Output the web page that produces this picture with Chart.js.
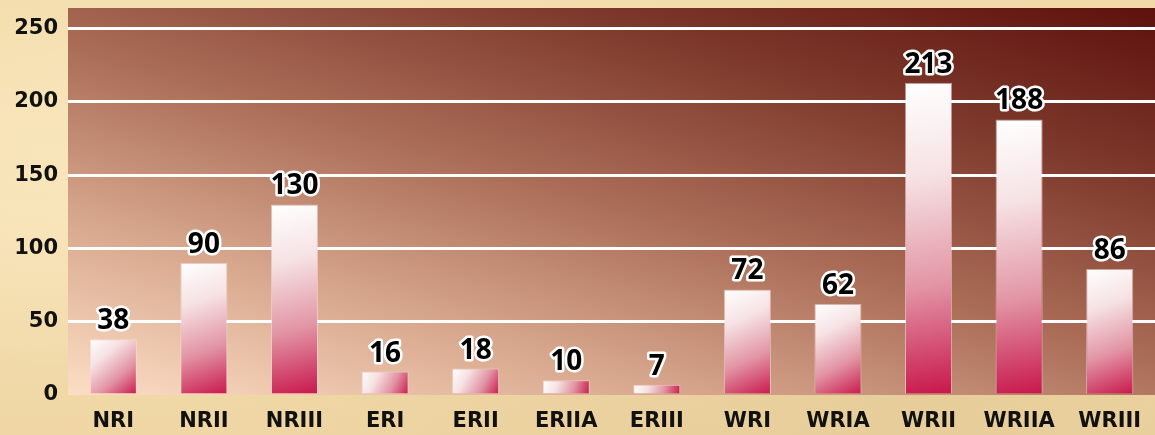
<!DOCTYPE html>
<html>
<head>
<meta charset="utf-8">
<script src="https://cdn.jsdelivr.net/npm/chart.js@4/dist/chart.umd.min.js"></script>
<style>
  html, body {
    margin: 0;
    padding: 0;
  }
  body {
    width: 1155px;
    height: 435px;
    overflow: hidden;
    background:
      radial-gradient(ellipse at 20% 30%, rgba(255, 240, 200, 0.5), rgba(255, 240, 200, 0) 60%),
      radial-gradient(ellipse at 80% 90%, rgba(215, 185, 130, 0.35), rgba(215, 185, 130, 0) 55%),
      linear-gradient(180deg, #f1d9a8 0%, #f5e0b3 50%, #efd6a4 100%);
  }
  #wrap {
    position: relative;
    width: 1155px;
    height: 435px;
  }
</style>
</head>
<body>
<div id="wrap"><canvas id="chart"></canvas></div>
<script>
// data
const categories = ["NRI", "NRII", "NRIII", "ERI", "ERII", "ERIIA", "ERIII", "WRI", "WRIA", "WRII", "WRIIA", "WRIII"];
const counts = [38, 90, 130, 16, 18, 10, 7, 72, 62, 213, 188, 86];
const yTicks = [0, 50, 100, 150, 200, 250];

const BAR_PCT = 0.52;
const AXIS_FONT = "'DejaVu Sans'";

// plot background: peach at bottom-left, dark maroon at top-right
const plotBackground = {
  id: "plotBackground",
  beforeDraw(chart) {
    const { ctx, chartArea: a } = chart;
    const w = a.right - a.left;
    const h = a.bottom - a.top;
    // t = 0.45 * x/w + 0.55 * (bottom - y)/h
    const gx = 0.45 / w, gy = -0.55 / h;
    const n = gx * gx + gy * gy;
    const g = ctx.createLinearGradient(a.left, a.bottom, a.left + gx / n, a.bottom + gy / n);
    g.addColorStop(0, "#fcdec5");
    g.addColorStop(0.25, "#d8a88e");
    g.addColorStop(0.5, "#aa6c57");
    g.addColorStop(0.75, "#7e3a2c");
    g.addColorStop(1, "#5e110d");
    ctx.save();
    ctx.fillStyle = g;
    ctx.fillRect(a.left, a.top, w, h);
    ctx.restore();
  }
};

// value labels above the bars, black with white outline
const valueLabels = {
  id: "valueLabels",
  afterDatasetsDraw(chart) {
    const ctx = chart.ctx;
    const meta = chart.getDatasetMeta(0);
    ctx.save();
    ctx.font = "bold 28px 'Noto Sans'";
    ctx.textAlign = "center";
    ctx.textBaseline = "alphabetic";
    ctx.lineJoin = "round";
    meta.data.forEach((bar, i) => {
      const txt = String(counts[i]);
      const y = bar.y - 10;
      ctx.strokeStyle = "#ffffff";
      ctx.lineWidth = 5;
      ctx.strokeText(txt, bar.x, y);
      ctx.fillStyle = "#000000";
      ctx.fillText(txt, bar.x, y);
    });
    ctx.restore();
  }
};

function barGradient(context) {
  const chart = context.chart;
  const xs = chart.scales.x, ys = chart.scales.y;
  if (!xs || !ys || !chart.chartArea) return "#e06080";
  const i = context.dataIndex;
  const cx = xs.getPixelForValue(i);
  const bw = (chart.chartArea.right - chart.chartArea.left) / categories.length * BAR_PCT;
  const top = ys.getPixelForValue(counts[i]);
  const bottom = ys.getPixelForValue(0);
  const g = chart.ctx.createLinearGradient(cx - bw / 2, top, cx + bw / 2, bottom);
  g.addColorStop(0, "#ffffff");
  g.addColorStop(0.3, "#f6e2e4");
  g.addColorStop(0.65, "#e294a4");
  g.addColorStop(1, "#c8154b");
  return g;
}

const ctx = document.getElementById("chart").getContext("2d");
new Chart(ctx, {
  type: "bar",
  data: {
    labels: categories,
    datasets: [{
      data: counts,
      backgroundColor: barGradient,
      borderColor: "rgba(255, 225, 230, 0.55)",
      borderWidth: 1,
      borderSkipped: "bottom",
      categoryPercentage: 1,
      barPercentage: BAR_PCT
    }]
  },
  options: {
    responsive: true,
    maintainAspectRatio: false,
    animation: false,
    layout: { padding: { top: 8, right: 0, left: 0, bottom: 0 } },
    plugins: {
      legend: { display: false },
      tooltip: { enabled: false }
    },
    scales: {
      x: {
        grid: { display: false, drawTicks: false },
        border: { display: false },
        ticks: {
          color: "#111111",
          font: { family: AXIS_FONT, size: 21, weight: "bold" },
          padding: 14,
          maxRotation: 0,
          autoSkip: false
        },
        afterFit(scale) {
          scale.height = 40;
          scale.paddingLeft = 0;
          scale.paddingRight = 0;
        }
      },
      y: {
        min: 0,
        max: 264,
        afterBuildTicks(scale) {
          scale.ticks = yTicks.map(v => ({ value: v }));
        },
        grid: {
          drawTicks: false,
          color: (c) => c.tick && c.tick.value === 0 ? "rgba(0,0,0,0)" : "#ffffff",
          lineWidth: 3
        },
        border: { display: false },
        ticks: {
          color: "#111111",
          font: { family: AXIS_FONT, size: 21, weight: "bold" },
          padding: 10
        },
        afterFit(scale) {
          scale.width = 68;
          scale.paddingTop = 0;
          scale.paddingBottom = 0;
        }
      }
    }
  },
  plugins: [plotBackground, valueLabels]
});
</script>
</body>
</html>
